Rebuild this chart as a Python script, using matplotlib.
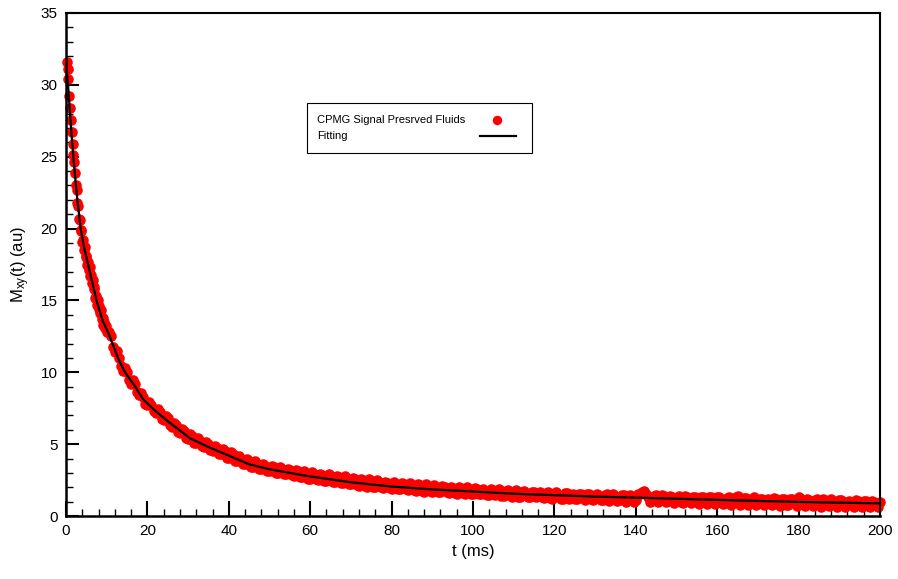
import numpy as np
import matplotlib.pyplot as plt
from matplotlib.patches import Rectangle
from matplotlib.lines import Line2D

plt.rcParams['font.family'] = ['Liberation Sans', 'DejaVu Sans']
plt.rcParams['mathtext.default'] = 'regular'

W, H = 898, 579

# CPMG echo train, early part (0.2 ms spacing)
t_early = [0.2, 0.4, 0.6, 0.8, 1.0, 1.2, 1.4, 1.6, 1.8, 2.0,
           2.2, 2.4, 2.6, 2.8, 3.0, 3.2, 3.4, 3.6, 3.8, 4.0,
           4.2, 4.4, 4.6, 4.8, 5.0, 5.2, 5.4, 5.6, 5.8, 6.0,
           6.2, 6.4, 6.6, 6.8, 7.0, 7.2, 7.4, 7.6, 7.8, 8.0,
           8.2, 8.4, 8.6, 8.8, 9.0, 9.2, 9.4, 9.6, 9.8, 10.0]
m_early = [31.6, 31.1, 30.4, 29.25, 28.4, 27.55, 26.7, 25.9, 25.1, 24.65,
           23.9, 23.0, 22.7, 21.8, 21.6, 20.7, 20.6, 19.8, 19.9, 19.1,
           19.2, 18.5, 18.7, 18.0, 18.1, 17.5, 17.7, 17.1, 17.3, 16.7,
           16.8, 16.2, 16.4, 15.8, 15.9, 15.2, 15.3, 14.7, 15.0, 14.4,
           14.6, 14.1, 14.3, 13.7, 13.8, 13.3, 13.5, 13.1, 13.2, 12.8]

# echoes at whole milliseconds, 11 to 200 ms
t_whole = list(range(11, 201))
m_whole = [12.5, 11.4, 11.0, 10.1, 10.05, 9.2, 9.2, 8.4, 8.3, 7.7,
           7.75, 7.15, 7.25, 6.65, 6.8, 6.2, 6.3, 5.75, 5.9, 5.35,
           5.55, 5.05, 5.25, 4.8, 5.0, 4.55, 4.75, 4.3, 4.5, 4.05,
           4.3, 3.8, 4.0, 3.6, 3.8, 3.4, 3.65, 3.25, 3.5, 3.1,
           3.4, 3.0, 3.3, 2.9, 3.2, 2.8, 3.1, 2.7, 3.0, 2.6,
           2.95, 2.5, 2.85, 2.45, 2.75, 2.35, 2.7, 2.3, 2.6, 2.2,
           2.55, 2.1, 2.5, 2.05, 2.45, 2.0, 2.35, 1.95, 2.3, 1.9,
           2.25, 1.85, 2.2, 1.8, 2.15, 1.75, 2.15, 1.7, 2.1, 1.7,
           2.05, 1.65, 2.0, 1.6, 1.95, 1.55, 1.95, 1.55, 1.9, 1.5,
           1.85, 1.55, 1.75, 1.45, 1.8, 1.6, 1.4, 1.75, 1.5, 1.65,
           1.35, 1.7, 1.45, 1.3, 1.65, 1.55, 1.3, 1.6, 1.25, 1.55,
           1.4, 1.2, 1.6, 1.35, 1.2, 1.5, 1.3, 1.55, 1.15, 1.45,
           1.3, 1.1, 1.5, 1.25, 1.4, 1.1, 1.45, 1.2, 1.35, 1.1,
           1.55, 1.75, 1.3, 1.05, 1.45, 1.2, 1.4, 1.05, 1.35, 1.15,
           1.0, 1.4, 1.2, 1.3, 0.95, 1.35, 1.1, 1.3, 0.95, 1.35,
           1.1, 0.9, 1.3, 1.05, 1.4, 0.95, 1.25, 1.0, 1.3, 0.9,
           1.2, 1.0, 0.85, 1.25, 1.0, 1.15, 0.8, 1.2, 0.95, 1.3,
           0.85, 1.15, 0.9, 1.1, 0.75, 1.15, 0.95, 1.2, 0.8, 1.1,
           0.85, 1.0, 0.75, 1.1, 0.9, 1.05, 0.7, 1.05, 0.85, 0.95]

# echoes at half milliseconds, 10.5 to 199.5 ms
t_half = [10.5 + k for k in range(190)]
m_half = [12.8, 11.75, 11.45, 10.45, 10.3, 9.45, 9.45, 8.6, 8.55, 7.8,
          7.95, 7.3, 7.45, 6.75, 6.95, 6.3, 6.5, 5.85, 6.05, 5.45,
          5.7, 5.1, 5.4, 4.85, 5.15, 4.6, 4.9, 4.3, 4.65, 4.05,
          4.45, 3.85, 4.2, 3.6, 3.95, 3.4, 3.8, 3.25, 3.65, 3.1,
          3.5, 3.0, 3.4, 2.9, 3.3, 2.85, 3.2, 2.7, 3.1, 2.6,
          3.05, 2.55, 2.95, 2.45, 2.9, 2.4, 2.8, 2.3, 2.75, 2.25,
          2.65, 2.15, 2.6, 2.1, 2.55, 2.05, 2.5, 2.0, 2.4, 1.95,
          2.35, 1.9, 2.3, 1.85, 2.3, 1.8, 2.25, 1.75, 2.2, 1.75,
          2.15, 1.7, 2.1, 1.65, 2.05, 1.6, 2.05, 1.6, 2.0, 1.55,
          1.95, 1.5, 1.9, 1.45, 1.9, 1.45, 1.85, 1.4, 1.8, 1.35,
          1.8, 1.35, 1.75, 1.3, 1.7, 1.3, 1.7, 1.25, 1.65, 1.2,
          1.65, 1.2, 1.6, 1.15, 1.55, 1.15, 1.55, 1.1, 1.5, 1.1,
          1.55, 1.1, 1.45, 1.05, 1.5, 1.05, 1.45, 1.0, 1.45, 1.0,
          1.5, 1.65, 1.55, 1.0, 1.4, 0.95, 1.45, 0.95, 1.4, 0.9,
          1.4, 0.9, 1.35, 0.9, 1.35, 0.85, 1.35, 0.85, 1.3, 0.85,
          1.3, 0.85, 1.25, 0.8, 1.3, 0.8, 1.25, 0.8, 1.2, 0.75,
          1.2, 0.75, 1.2, 0.75, 1.15, 0.7, 1.2, 0.75, 1.15, 0.7,
          1.15, 0.7, 1.1, 0.7, 1.15, 0.65, 1.1, 0.7, 1.05, 0.65,
          1.1, 0.65, 1.05, 0.65, 1.05, 0.6, 1.05, 0.65, 1.0, 0.65]

# fitted decay curve
t_fit = [0.3, 0.6, 1.0, 1.4, 1.8, 2.6, 3.6, 4.5, 5.6, 7.5, 9.0, 10.6, 12.9,
         14.5, 17, 19, 22, 25, 30.5, 35, 40, 45, 50, 60, 70, 80, 90, 100,
         110, 120, 130, 140, 150, 160, 170, 180, 190, 200]
m_fit = [30.7, 29.6, 27.9, 26.4, 25.0, 22.5, 20.0, 18.6, 17.3, 15.0, 13.6,
         12.6, 10.9, 10.0, 9.0, 8.1, 7.3, 6.6, 5.4, 4.8, 4.2, 3.6, 3.25,
         2.75, 2.35, 2.05, 1.85, 1.7, 1.55, 1.45, 1.35, 1.28, 1.2, 1.12,
         1.05, 0.98, 0.93, 0.88]

t_sig = np.array(t_early + t_whole + t_half, dtype=float)
m_sig = np.array(m_early + m_whole + m_half, dtype=float)
order = np.argsort(t_sig)
t_sig, m_sig = t_sig[order], m_sig[order]

fig = plt.figure(figsize=(W / 100, H / 100), dpi=100)
ax = fig.add_axes([66 / W, 63 / H, 814 / W, 503 / H])

ax.plot(t_sig, m_sig, 'o', color='#ff0000', markersize=7.6, mew=0,
        clip_on=False, zorder=2)
ax.plot(t_fit, m_fit, '-', color='black', lw=1.6, zorder=3)

ax.set_xlim(0, 200)
ax.set_ylim(0, 35)
ax.set_xticks(np.arange(0, 201, 20))
ax.set_xticks(np.arange(0, 201, 4), minor=True)
ax.set_yticks(np.arange(0, 36, 5))
ax.set_yticks(np.arange(0, 36, 1), minor=True)

ax.tick_params(which='both', direction='in', top=False, right=False,
               labelsize=11, pad=6)
ax.tick_params(axis='x', which='major', length=11, width=1.5)
ax.tick_params(axis='y', which='major', length=9.5, width=1.5)
ax.tick_params(which='minor', length=5, width=1.0)
for side in ['left', 'bottom']:
    ax.spines[side].set_linewidth(1.8)
for side in ['top', 'right']:
    ax.spines[side].set_linewidth(1.5)

ax.set_xlabel('t (ms)', fontsize=12, labelpad=4)
ax.set_ylabel('M$_{xy}$(t) (au)', fontsize=12, labelpad=6)


# legend box, laid out in pixel units from the top-left corner
def fx(px):
    return px / W


def fy(py):
    return 1 - py / H


fig.patches.append(Rectangle((fx(307), fy(153)), fx(532) - fx(307),
                             fy(103) - fy(153), transform=fig.transFigure,
                             facecolor='white', edgecolor='black', lw=0.8,
                             zorder=5))
fig.text(fx(317), fy(120), 'CPMG Signal Presrved Fluids', fontsize=8,
         va='center', ha='left', zorder=6)
fig.text(fx(317), fy(136), 'Fitting', fontsize=8, va='center', ha='left',
         zorder=6)
fig.lines.append(Line2D([fx(497)], [fy(120)], marker='o', color='#ff0000',
                        markersize=6.8, mew=0, transform=fig.transFigure,
                        zorder=6))
fig.lines.append(Line2D([fx(480), fx(516)], [fy(136.5), fy(136.5)],
                        color='black', lw=1.6, transform=fig.transFigure,
                        zorder=6))

fig.savefig('out.png', dpi=100)
